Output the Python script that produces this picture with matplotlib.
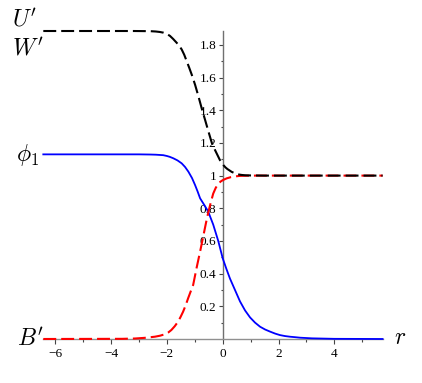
import numpy as np
import matplotlib
matplotlib.use('Agg')
import matplotlib.pyplot as plt
from matplotlib.ticker import FixedLocator, FixedFormatter

plt.rcParams['font.family'] = ['Liberation Serif', 'DejaVu Serif']
plt.rcParams['mathtext.fontset'] = 'cm'

# values
x_uw = [-6.43, -3.2, -2.6, -2.4, -2.25, -2.13, -2.0, -1.89, -1.78, -1.65, -1.56,
        -1.47, -1.38, -1.29, -1.2, -1.11, -0.99, -0.87, -0.75, -0.63, -0.52, -0.39,
        -0.3, -0.22, -0.1, 0.02, 0.1, 0.17, 0.25, 0.32, 0.4, 0.5, 0.6, 0.68, 0.8,
        1.0, 1.5, 5.73]
y_uw = [1.885, 1.885, 1.884, 1.882, 1.879, 1.875, 1.867, 1.855, 1.837, 1.813, 1.795,
        1.772, 1.740, 1.70, 1.66, 1.618, 1.556, 1.485, 1.41, 1.34, 1.275, 1.20,
        1.165, 1.137, 1.095, 1.065, 1.050, 1.040, 1.031, 1.023, 1.017, 1.010, 1.006,
        1.004, 1.002, 1.001, 1.0, 1.0]

x_phi = [-6.43, -3.0, -2.6, -2.4, -2.13, -2.0, -1.9, -1.77, -1.62, -1.47, -1.35,
         -1.23, -1.1, -0.99, -0.9, -0.81, -0.66, -0.52, -0.34, -0.16, 0.0, 0.13,
         0.26, 0.44, 0.62, 0.80, 0.98, 1.16, 1.34, 1.52, 1.70, 1.88, 2.05, 2.23,
         2.41, 2.6, 2.77, 3.2, 4.0, 5.73]
y_phi = [1.130, 1.130, 1.129, 1.128, 1.125, 1.120, 1.115, 1.106, 1.093, 1.075, 1.053,
         1.024, 0.985, 0.942, 0.903, 0.861, 0.82, 0.78, 0.70, 0.60, 0.494, 0.43,
         0.37, 0.30, 0.23, 0.175, 0.132, 0.10, 0.075, 0.058, 0.045, 0.033, 0.024, 0.018,
         0.014, 0.011, 0.008, 0.004, 0.001, 0.0]

x_b = [-6.43, -3.6, -3.14, -2.8, -2.43, -2.25, -2.07, -1.95, -1.84, -1.72, -1.60,
       -1.51, -1.42, -1.33, -1.24, -1.15, -1.06, -0.93, -0.81, -0.70, -0.60, -0.51,
       -0.42, -0.34, -0.25, -0.16, -0.08, 0.0, 0.14, 0.3, 0.44, 0.6, 0.8, 1.2, 5.73]
y_b = [0.0, 0.001, 0.003, 0.007, 0.014, 0.020, 0.029, 0.040, 0.055, 0.078, 0.106,
       0.135, 0.167, 0.205, 0.249, 0.29, 0.33, 0.44, 0.535, 0.626, 0.71, 0.78,
       0.84, 0.89, 0.925, 0.950, 0.963, 0.972, 0.983, 0.991, 0.995, 0.998, 0.999,
       1.0, 1.0]

xticks = [-6, -4, -2, 0, 2, 4]
xticks_minor = [-5, -3, -1, 1, 3, 5]
yticks = [0.2, 0.4, 0.6, 0.8, 1.0, 1.2, 1.4, 1.6, 1.8]
ytick_labels = ['0.2', '0.4', '0.6', '0.8', '1', '1.2', '1.4', '1.6', '1.8']
yticks_minor = [0.1, 0.3, 0.5, 0.7, 0.9, 1.1, 1.3, 1.5, 1.7]

fig = plt.figure(figsize=(4.22, 3.83), dpi=100)
ax = fig.add_axes([0.1026, 0.1149, 0.804, 0.805])

ax.plot(x_phi, y_phi, color='#0000ff', lw=1.3, clip_on=False, zorder=3)
ax.plot(x_b, y_b, color='#ff0000', lw=1.5, ls=(0, (6.2, 2.4)), clip_on=False, zorder=4)
ax.plot(x_uw, y_uw, color='black', lw=1.5, ls=(0, (6.2, 2.4)), clip_on=False, zorder=5)

ax.set_xlim(-6.43, 5.73)
ax.set_ylim(0, 1.887)

for s in ['top', 'right']:
    ax.spines[s].set_visible(False)
ax.spines['left'].set_position(('data', 0))
ax.spines['left'].set_color('#707070')
ax.spines['bottom'].set_color('#909090')
ax.spines['left'].set_linewidth(1.0)
ax.spines['bottom'].set_linewidth(1.0)

ax.xaxis.set_major_locator(FixedLocator(xticks))
ax.xaxis.set_minor_locator(FixedLocator(xticks_minor))
ax.set_xticklabels([str(t).replace('-', '\u2212') for t in xticks])
ax.yaxis.set_major_locator(FixedLocator(yticks))
ax.yaxis.set_major_formatter(FixedFormatter(ytick_labels))
ax.yaxis.set_minor_locator(FixedLocator(yticks_minor))

ax.tick_params(axis='x', which='major', direction='out', length=3.5, width=0.8,
               color='#444444', labelsize=9.5, pad=3)
ax.tick_params(axis='x', which='minor', direction='out', length=2.5, width=0.8,
               color='#444444')
ax.tick_params(axis='y', which='major', direction='out', length=3, width=0.8,
               color='#444444', labelsize=9.5, pad=1.5)
ax.tick_params(axis='y', which='minor', direction='out', length=1.6, width=0.8,
               color='#444444')

lab = dict(fontsize=17, ha='center', va='center', clip_on=False)
ax.text(-7.09, 1.955, r'$U^{\prime}$', **lab)
ax.text(-6.98, 1.775, r'$W^{\prime}$', **lab)
ax.text(-7.01, 1.126, r'$\phi_1$', **lab)
ax.text(-6.87, 0.0, r'$B^{\prime}$', **lab)
ax.text(6.35, 0.0, r'$r$', **lab)

fig.savefig('out.png', dpi=100)
